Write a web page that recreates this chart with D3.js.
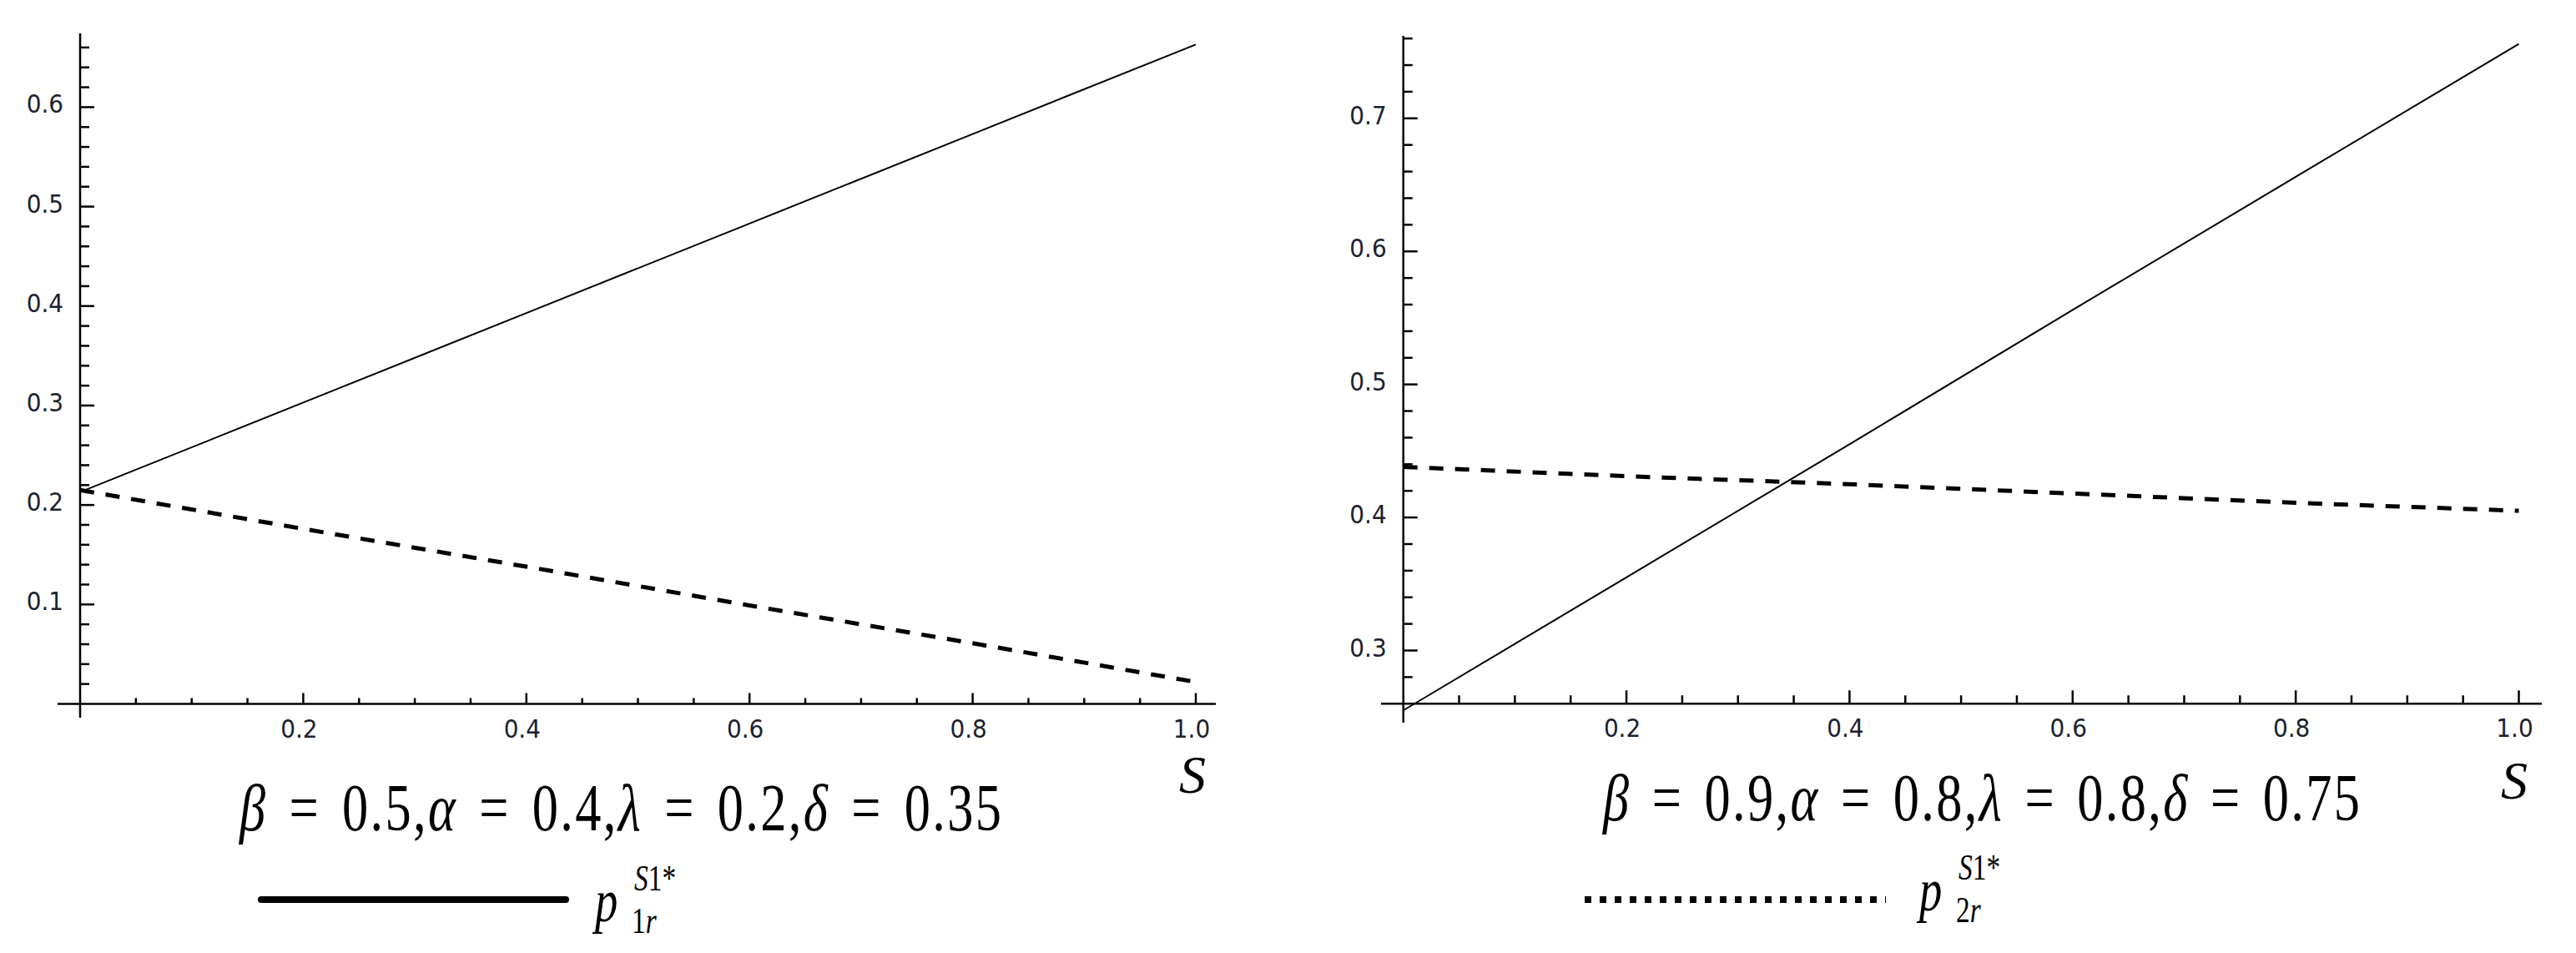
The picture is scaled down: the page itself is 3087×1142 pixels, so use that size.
<!DOCTYPE html>
<html>
<head>
<meta charset="utf-8">
<script src="https://cdn.jsdelivr.net/npm/d3@7"></script>
<style>
  body { margin: 0; background: #fff; }
</style>
</head>
<body>
<svg id="chart" width="3087" height="1142"></svg>
<script>
// values, s = 0 .. 1
var sValues = [0, 0.2, 0.4, 0.6, 0.8, 1.0];

var leftP1r = [0.213, 0.303, 0.393, 0.483, 0.573, 0.663];
var leftP2r = [0.215, 0.176, 0.138, 0.099, 0.061, 0.022];

var rightP1r = [0.255, 0.355, 0.455, 0.556, 0.656, 0.756];
var rightP2r = [0.438, 0.431, 0.425, 0.418, 0.411, 0.405];

var xTickValues = [0.2, 0.4, 0.6, 0.8, 1.0];
var leftYTicks = [0.1, 0.2, 0.3, 0.4, 0.5, 0.6];
var rightYTicks = [0.3, 0.4, 0.5, 0.6, 0.7];

var paramNames = ["β", "α", "λ", "δ"];
var leftParamValues = ["0.5", "0.4", "0.2", "0.35"];
var rightParamValues = ["0.9", "0.8", "0.8", "0.75"];

var SERIF = "'Liberation Serif', 'Times New Roman', 'DejaVu Serif', serif";
var TICKFONT = "'DejaVu Sans Condensed', 'DejaVu Sans', sans-serif";

var svg = d3.select("#chart");

// panel layout (pixels)
var leftPanel = {
    x0: 96, x1: 1433, xEnd: 1457, xStart: 69,
    yDomain: [0, 0.6], yRange: [843.5, 128.4], yCross: 0, yTop: 40, yBottom: 860,
    yMinorFrom: 0.02, yMinorTo: 0.66,
    xMajorLen: 13, xMinorLen: 7,
    formula: { x: 287, y: 995, width: 913 },
    sLabel: { x: 1413, y: 950 },
    legend: { x1: 313, x2: 678, y: 1078, style: "solid", px: 713, py: 1104, sub: "1" }
};
var rightPanel = {
    x0: 1681.7, x1: 3018.5, xEnd: 3046, xStart: 1655,
    yDomain: [0.3, 0.7], yRange: [779.5, 141.8], yCross: 0.26, yTop: 43, yBottom: 866,
    yMinorFrom: 0.28, yMinorTo: 0.76,
    xMajorLen: 16, xMinorLen: 10,
    formula: { x: 1921, y: 983, width: 907 },
    sLabel: { x: 2997, y: 957 },
    legend: { x1: 1899, x2: 2260, y: 1078, style: "dotted", px: 2300, py: 1091, sub: "2" }
};

function tickLabel(sel) {
    sel.style("font-family", TICKFONT)
        .style("font-stretch", "condensed")
        .attr("font-size", 31)
        .attr("fill", "#1c2230");
}

function drawPanel(cfg, solidVals, dashedVals, yMajor, paramValues) {
    var g = svg.append("g");

    var x = d3.scaleLinear().domain([0, 1]).range([cfg.x0, cfg.x1]);
    var y = d3.scaleLinear().domain(cfg.yDomain).range(cfg.yRange);
    var axisY = y(cfg.yCross);

    // axes lines
    g.append("line")
        .attr("x1", cfg.xStart).attr("x2", cfg.xEnd)
        .attr("y1", axisY).attr("y2", axisY)
        .attr("stroke", "#000").attr("stroke-width", 2.5);
    g.append("line")
        .attr("x1", cfg.x0).attr("x2", cfg.x0)
        .attr("y1", cfg.yTop).attr("y2", cfg.yBottom)
        .attr("stroke", "#000").attr("stroke-width", 2.5);

    // x ticks (inward), minor every 0.05
    var xMinor = d3.range(1, 21).map(function (i) { return i * 0.05; })
        .filter(function (v) { return Math.abs(v * 5 - Math.round(v * 5)) > 1e-6; });
    g.selectAll(".xminor").data(xMinor).enter().append("line")
        .attr("x1", function (d) { return x(d); }).attr("x2", function (d) { return x(d); })
        .attr("y1", axisY).attr("y2", axisY - cfg.xMinorLen)
        .attr("stroke", "#000").attr("stroke-width", 2.5);
    g.selectAll(".xmajor").data(xTickValues).enter().append("line")
        .attr("x1", function (d) { return x(d); }).attr("x2", function (d) { return x(d); })
        .attr("y1", axisY).attr("y2", axisY - cfg.xMajorLen)
        .attr("stroke", "#000").attr("stroke-width", 2.5);
    g.selectAll(".xlabel").data(xTickValues).enter().append("text")
        .call(tickLabel)
        .attr("x", function (d) { return x(d) - 5; })
        .attr("y", axisY + 40)
        .attr("text-anchor", "middle")
        .text(d3.format(".1f"));

    // y ticks, minor every 0.02
    var yMinor = d3.range(Math.round(cfg.yMinorFrom * 50), Math.round(cfg.yMinorTo * 50) + 1)
        .map(function (i) { return i / 50; })
        .filter(function (v) { return Math.abs(v * 10 - Math.round(v * 10)) > 1e-6; });
    g.selectAll(".yminor").data(yMinor).enter().append("line")
        .attr("x1", cfg.x0).attr("x2", cfg.x0 + 11)
        .attr("y1", function (d) { return y(d); }).attr("y2", function (d) { return y(d); })
        .attr("stroke", "#000").attr("stroke-width", 2.5);
    g.selectAll(".ymajor").data(yMajor).enter().append("line")
        .attr("x1", cfg.x0).attr("x2", cfg.x0 + 17)
        .attr("y1", function (d) { return y(d); }).attr("y2", function (d) { return y(d); })
        .attr("stroke", "#000").attr("stroke-width", 2.5);
    g.selectAll(".ylabel").data(yMajor).enter().append("text")
        .call(tickLabel)
        .attr("x", cfg.x0 - 20)
        .attr("y", function (d) { return y(d) + 7; })
        .attr("text-anchor", "end")
        .text(d3.format(".1f"));

    // curves
    var line = d3.line()
        .x(function (d) { return x(d[0]); })
        .y(function (d) { return y(d[1]); });
    g.append("path")
        .datum(d3.zip(sValues, solidVals))
        .attr("d", line)
        .attr("fill", "none").attr("stroke", "#000").attr("stroke-width", 2);
    g.append("path")
        .datum(d3.zip(sValues, dashedVals))
        .attr("d", line)
        .attr("fill", "none").attr("stroke", "#000").attr("stroke-width", 5)
        .attr("stroke-dasharray", "17,14");

    // S axis label
    g.append("text")
        .style("font-family", SERIF)
        .attr("x", cfg.sLabel.x).attr("y", cfg.sLabel.y)
        .attr("font-size", 64).attr("font-style", "italic")
        .text("S");

    // parameter line: narrow glyphs, wider gaps round "="
    var sxF = 0.78, letter = 3;
    var f = g.append("text")
        .style("font-family", SERIF)
        .attr("font-size", 80);
    var nChars = 0, nSpaces = 0;
    paramNames.forEach(function (n, i) {
        var rest = " = " + paramValues[i] + (i < paramNames.length - 1 ? "," : "");
        f.append("tspan").attr("font-style", "italic").text(n);
        f.append("tspan").text(rest);
        nChars += 1 + rest.length;
        nSpaces += 2;
    });
    var w0 = f.node().getComputedTextLength();
    var word = Math.max(0, (cfg.formula.width / sxF - w0 - letter * (nChars - 1)) / nSpaces);
    f.style("letter-spacing", letter + "px").style("word-spacing", word + "px");
    var w1 = f.node().getComputedTextLength() - letter;
    f.attr("transform", "translate(" + cfg.formula.x + "," + cfg.formula.y + ") scale(" + (cfg.formula.width / w1) + ",1)");

    // legend
    var lg = cfg.legend;
    var key = g.append("line")
        .attr("x1", lg.x1).attr("x2", lg.x2)
        .attr("y1", lg.y).attr("y2", lg.y)
        .attr("stroke", "#000").attr("stroke-width", 8);
    if (lg.style == "solid") {
        key.attr("stroke-linecap", "round");
    } else {
        key.attr("stroke-dasharray", "8,10");
    }
    var sx = 0.76;
    var lab = g.append("text")
        .style("font-family", SERIF)
        .attr("transform", "translate(" + lg.px + "," + lg.py + ") scale(" + sx + ",1)");
    lab.append("tspan").attr("font-size", 72).attr("font-style", "italic").text("p");
    lab.append("tspan").attr("x", 47 / sx).attr("y", -37)
        .attr("font-size", 44).attr("font-style", "italic").text("S");
    lab.append("tspan").attr("font-size", 44).text("1*");
    lab.append("tspan").attr("x", 44 / sx).attr("y", 14)
        .attr("font-size", 44).text(lg.sub);
    lab.append("tspan").attr("font-size", 44).attr("font-style", "italic").text("r");
}

drawPanel(leftPanel, leftP1r, leftP2r, leftYTicks, leftParamValues);
drawPanel(rightPanel, rightP1r, rightP2r, rightYTicks, rightParamValues);
</script>
</body>
</html>
